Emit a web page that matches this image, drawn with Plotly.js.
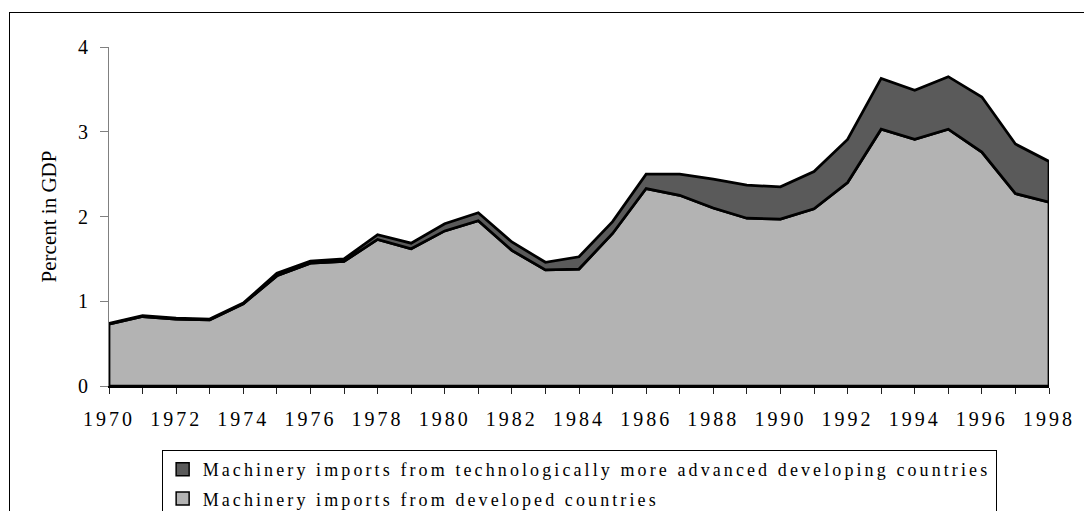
<!DOCTYPE html>
<html>
<head>
<meta charset="utf-8">
<script src="https://cdn.plot.ly/plotly-3.0.1.min.js"></script>
<style>
  html, body { margin: 0; padding: 0; background: #fff; }
  #wrap { position: relative; width: 1084px; height: 511px; overflow: hidden; }
  #frame { position: absolute; left: 9px; top: 12px; width: 1200px; height: 600px; border: 1.5px solid #000; box-sizing: border-box; pointer-events: none; }
  #chart { position: absolute; left: 0; top: 0; width: 1084px; height: 511px; }
  .xtick text { letter-spacing: 3px; }
  .legendtext { letter-spacing: 3.1px; }
</style>
</head>
<body>
<div id="wrap">
  <div id="frame"></div>
  <div id="chart"></div>
</div>
<script>
// Years
const years = [1970, 1971, 1972, 1973, 1974, 1975, 1976, 1977, 1978, 1979,
               1980, 1981, 1982, 1983, 1984, 1985, 1986, 1987, 1988, 1989,
               1990, 1991, 1992, 1993, 1994, 1995, 1996, 1997, 1998];

// Machinery imports from developed countries (% of GDP)
const developed = [0.73, 0.82, 0.79, 0.78, 0.97, 1.30, 1.45, 1.47, 1.73, 1.62,
                   1.83, 1.95, 1.60, 1.37, 1.38, 1.80, 2.33, 2.25, 2.10, 1.98,
                   1.97, 2.09, 2.40, 3.03, 2.91, 3.03, 2.76, 2.27, 2.17];

// Machinery imports from technologically more advanced developing countries (% of GDP)
const advanced = [0.01, 0.01, 0.01, 0.01, 0.01, 0.03, 0.025, 0.03, 0.055, 0.065,
                  0.085, 0.095, 0.10, 0.09, 0.145, 0.14, 0.17, 0.25, 0.34, 0.39,
                  0.38, 0.44, 0.51, 0.60, 0.58, 0.62, 0.65, 0.585, 0.48];

const seriesNames = [
  'Machinery imports from technologically more advanced developing countries',
  'Machinery imports from developed countries'
];

const yTickVals = [0, 1, 2, 3, 4];
const xTickLabels = years.map(y => (y % 2 === 0 ? String(y) : ''));

const colDeveloped = '#b3b3b3';
const colAdvanced = '#5a5a5a';
const serif = "'Liberation Serif', 'Times New Roman', serif";

const total = developed.map((v, i) => v + advanced[i]);
const first = years[0];
const last = years[years.length - 1];

const devTrace = {
  x: [first].concat(years, [last, first]),
  y: [0].concat(developed, [0, 0]),
  type: 'scatter', mode: 'lines', fill: 'toself',
  fillcolor: colDeveloped,
  line: { color: '#000', width: 2.75 },
  showlegend: false, hoverinfo: 'skip'
};

const revYears = years.slice().reverse();
const revDev = developed.slice().reverse();
const advTrace = {
  x: years.concat(revYears, [first]),
  y: total.concat(revDev, [total[0]]),
  type: 'scatter', mode: 'lines', fill: 'toself',
  fillcolor: colAdvanced,
  line: { color: '#000', width: 2.75 },
  showlegend: false, hoverinfo: 'skip'
};

const legAdv = {
  x: [null], y: [null], type: 'scatter', mode: 'markers',
  name: seriesNames[0], legendgroup: 'a',
  marker: { symbol: 'square', size: 13, color: colAdvanced, line: { color: '#000', width: 1.5 } }
};
const legDev = {
  x: [null], y: [null], type: 'scatter', mode: 'markers',
  name: seriesNames[1], legendgroup: 'b',
  marker: { symbol: 'square', size: 13, color: colDeveloped, line: { color: '#000', width: 1.5 } }
};

const layout = {
  width: 1084, height: 511,
  margin: { l: 109, r: 35, t: 47, b: 125, pad: 0, autoexpand: false },
  paper_bgcolor: 'rgba(0,0,0,0)',
  plot_bgcolor: 'rgba(0,0,0,0)',
  font: { family: serif, color: '#000', size: 18 },
  showlegend: true,
  xaxis: {
    range: [first, last],
    tickmode: 'array', tickvals: years, ticktext: xTickLabels,
    ticks: 'outside', ticklen: 6, tickwidth: 1, tickcolor: '#222',
    showline: true, linecolor: '#000', linewidth: 2,
    showgrid: false, zeroline: false,
    tickfont: { family: serif, size: 20, color: '#000' },
    ticklabelstandoff: 8,
    automargin: false,
    fixedrange: true
  },
  yaxis: {
    range: [0, 4],
    tickmode: 'array', tickvals: yTickVals,
    ticks: 'outside', ticklen: 8, tickwidth: 1, tickcolor: '#808080',
    showline: true, linecolor: '#808080', linewidth: 1,
    showgrid: false, zeroline: false,
    tickfont: { family: serif, size: 20, color: '#000' },
    ticklabelstandoff: 8,
    automargin: false,
    title: { text: 'Percent in GDP', font: { family: serif, size: 21, color: '#000' }, standoff: 15 },
    fixedrange: true
  },
  legend: {
    x: 0.056, xanchor: 'left',
    y: -0.1888, yanchor: 'top',
    orientation: 'v',
    traceorder: 'grouped',
    tracegroupgap: 3,
    bgcolor: '#fff',
    bordercolor: '#000', borderwidth: 1,
    font: { family: serif, size: 18, color: '#000' }
  }
};

Plotly.newPlot('chart', [devTrace, advTrace, legAdv, legDev], layout, { displayModeBar: false, staticPlot: true });
</script>
</body>
</html>
